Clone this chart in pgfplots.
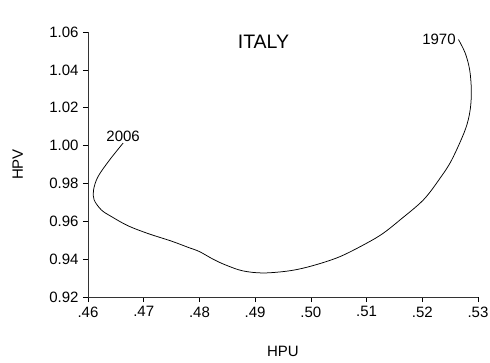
\documentclass[border=0pt]{standalone}
\usepackage{pgfplots}
\pgfplotsset{compat=1.18}
\usepackage{fontspec}
\setmainfont{Liberation Sans}
\begin{document}
\begin{tikzpicture}
\useasboundingbox (-88pt,-65pt) rectangle (402pt,297pt);
\begin{axis}[
  at={(0,0)}, anchor=south west,
  scale only axis, width=390pt, height=265pt,
  xmin=0.46, xmax=0.53, ymin=0.92, ymax=1.06,
  axis lines*=left,
  axis line style={black!80, line width=0.9pt},
  tick align=outside,
  major tick length=5pt,
  tick style={black, line width=0.7pt},
  xtick={0.46,0.47,0.48,0.49,0.50,0.51,0.52,0.53},
  xticklabels={.46,.47,.48,.49,.50,.51,.52,.53},
  ytick={0.92,0.94,0.96,0.98,1.00,1.02,1.04,1.06},
  yticklabels={0.92,0.94,0.96,0.98,1.00,1.02,1.04,1.06},
  ticklabel style={font=\fontsize{15}{17}\selectfont},
  xticklabel style={yshift=-1pt},
  yticklabel style={xshift=-1pt},
  xlabel={HPU}, ylabel={HPV},
  label style={font=\fontsize{15}{17}\selectfont},
  xlabel style={at={(axis description cs:0.5,-0.204)}, anchor=center},
  ylabel style={at={(axis description cs:-0.18,0.5)}, anchor=center},
  clip=false,
]
\addplot[black, line width=0.75pt, smooth, tension=0.55] coordinates {
(0.5265,1.0560)
(0.5277,1.0489)
(0.5285,1.0401)
(0.5288,1.0295)
(0.5286,1.0189)
(0.5277,1.0083)
(0.5253,0.9925)
(0.5232,0.9828)
(0.5202,0.9713)
(0.5160,0.9607)
(0.5130,0.9537)
(0.5100,0.9484)
(0.5052,0.9413)
(0.5004,0.9366)
(0.4963,0.9339)
(0.4915,0.9327)
(0.4878,0.9338)
(0.4848,0.9368)
(0.4825,0.9399)
(0.4800,0.9440)
(0.4780,0.9462)
(0.4750,0.9495)
(0.4708,0.9535)
(0.4672,0.9576)
(0.4642,0.9625)
(0.4624,0.9660)
(0.4611,0.9713)
(0.4610,0.9766)
(0.4618,0.9836)
(0.4639,0.9925)
(0.4663,1.0013)
};
\node[anchor=east, inner sep=1pt, font=\fontsize{15}{17}\selectfont] at (axis cs:0.5262,1.0560) {1970};
\node[anchor=south, inner sep=1pt, font=\fontsize{15}{17}\selectfont] at (axis cs:0.4663,1.0013) {2006};
\node[font=\fontsize{19.5}{21}\selectfont] at (rel axis cs:0.45,1) [yshift=-9.5pt] {ITALY};
\end{axis}
\end{tikzpicture}
\end{document}
